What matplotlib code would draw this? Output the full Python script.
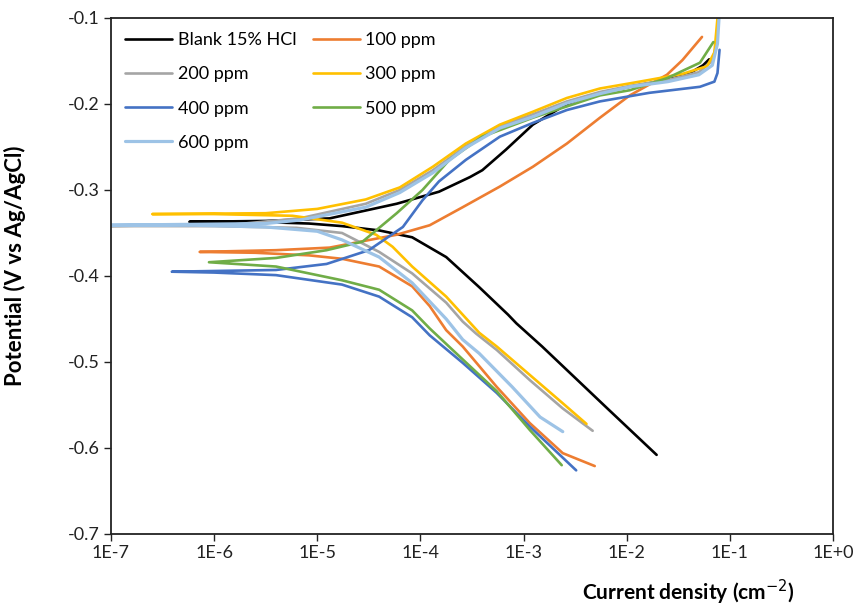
import numpy as np
import matplotlib.pyplot as plt
from matplotlib.ticker import FixedLocator, FuncFormatter

plt.rcParams['font.family'] = ['Lato', 'DejaVu Sans']

# log10(current density) and potential (V), from cathodic end -> Ecorr -> anodic end
blank_logi = [-1.71, -2.17, -2.82, -3.07, -3.15, -3.43, -3.75, -4.08, -4.40, -4.76, -5.08, -5.6, -6.24,
              -5.5, -4.88, -4.23, -3.82, -3.52, -3.40, -3.17, -2.91, -2.58, -2.26, -1.97, -1.61, -1.40, -1.26, -1.20]
blank_E = [-0.608, -0.556, -0.482, -0.455, -0.445, -0.413, -0.378, -0.355, -0.347, -0.342, -0.339, -0.337, -0.337,
           -0.336, -0.333, -0.316, -0.302, -0.285, -0.277, -0.253, -0.224, -0.200, -0.187, -0.180, -0.172, -0.165, -0.155, -0.148]

p100_logi = [-2.31, -2.62, -2.94, -3.26, -3.59, -3.75, -3.91, -4.08, -4.40, -4.76, -5.08, -5.6, -6.14,
             -5.4, -4.88, -4.23, -3.91, -3.59, -3.23, -2.91, -2.58, -2.26, -1.97, -1.61, -1.46, -1.27]
p100_E = [-0.621, -0.606, -0.571, -0.529, -0.482, -0.463, -0.435, -0.412, -0.389, -0.380, -0.376, -0.373, -0.372,
          -0.370, -0.367, -0.352, -0.341, -0.320, -0.296, -0.273, -0.246, -0.216, -0.190, -0.166, -0.149, -0.122]

p200_logi = [-2.33, -2.62, -2.94, -3.26, -3.46, -3.59, -3.75, -4.08, -4.40, -4.76, -5.2, -6.0, -7.1,
             -5.8, -5.17, -4.53, -4.2, -3.88, -3.56, -3.23, -2.91, -2.58, -2.26, -1.97, -1.6, -1.3, -1.17, -1.12]
p200_E = [-0.580, -0.554, -0.521, -0.486, -0.467, -0.453, -0.431, -0.397, -0.372, -0.350, -0.344, -0.342, -0.342,
          -0.340, -0.333, -0.316, -0.300, -0.277, -0.249, -0.226, -0.212, -0.197, -0.186, -0.179, -0.172, -0.163, -0.150, -0.125]

p300_logi = [-2.39, -2.62, -2.94, -3.26, -3.43, -3.75, -4.08, -4.27, -4.43, -4.76, -5.24, -6.0, -6.60,
             -5.5, -5.0, -4.53, -4.2, -3.88, -3.56, -3.23, -2.91, -2.58, -2.26, -1.97, -1.78, -1.46, -1.22, -1.15, -1.12]
p300_E = [-0.572, -0.548, -0.515, -0.482, -0.466, -0.424, -0.389, -0.366, -0.352, -0.338, -0.330, -0.328, -0.328,
          -0.327, -0.322, -0.311, -0.297, -0.273, -0.246, -0.224, -0.209, -0.193, -0.182, -0.176, -0.172, -0.165, -0.156, -0.140, -0.100]

p400_logi = [-2.49, -2.94, -3.26, -3.59, -3.91, -4.08, -4.40, -4.76, -5.40, -6.0, -6.41,
             -5.40, -4.91, -4.50, -4.17, -3.98, -3.82, -3.56, -3.23, -2.91, -2.58, -2.26, -1.78, -1.29, -1.15, -1.12, -1.10]
p400_E = [-0.626, -0.575, -0.536, -0.501, -0.469, -0.448, -0.424, -0.410, -0.399, -0.396, -0.395,
          -0.393, -0.386, -0.370, -0.343, -0.312, -0.290, -0.265, -0.238, -0.222, -0.207, -0.197, -0.187, -0.180, -0.174, -0.164, -0.137]

p500_logi = [-2.63, -2.94, -3.26, -3.59, -3.91, -4.08, -4.40, -4.76, -5.40, -6.05,
             -5.40, -4.91, -4.56, -4.23, -3.98, -3.72, -3.40, -2.91, -2.26, -1.97, -1.61, -1.29, -1.16]
p500_E = [-0.620, -0.579, -0.534, -0.497, -0.461, -0.440, -0.416, -0.405, -0.389, -0.384,
          -0.379, -0.370, -0.360, -0.327, -0.300, -0.265, -0.238, -0.216, -0.190, -0.184, -0.170, -0.152, -0.128]

p600_logi = [-2.62, -2.84, -3.11, -3.43, -3.59, -3.75, -4.08, -4.40, -4.76, -5.0, -5.5, -6.2, -7.1,
             -5.5, -5.17, -4.53, -4.2, -3.88, -3.56, -3.23, -2.91, -2.58, -2.26, -1.97, -1.6, -1.3, -1.17, -1.12, -1.10]
p600_E = [-0.581, -0.564, -0.529, -0.490, -0.474, -0.450, -0.408, -0.378, -0.358, -0.348, -0.343, -0.341, -0.341,
          -0.339, -0.335, -0.320, -0.303, -0.280, -0.251, -0.228, -0.215, -0.199, -0.188, -0.180, -0.174, -0.166, -0.155, -0.130, -0.090]

labels = ['Blank 15% HCl', '100 ppm', '200 ppm', '300 ppm', '400 ppm', '500 ppm', '600 ppm']
colors = ['#000000', '#ED7D31', '#A5A5A5', '#FFC000', '#4472C4', '#70AD47', '#9DC3E6']
series = [(blank_logi, blank_E), (p100_logi, p100_E), (p200_logi, p200_E), (p300_logi, p300_E),
          (p400_logi, p400_E), (p500_logi, p500_E), (p600_logi, p600_E)]

fig = plt.figure(figsize=(8.57, 6.10), dpi=100)
ax = fig.add_axes([0.1295, 0.1246, 0.8425, 0.8459])

lines = []
for (li, E), c, lab in zip(series, colors, labels):
    lw = 2.3 if lab == '600 ppm' else 1.9
    ln, = ax.plot(10 ** np.array(li), E, color=c, lw=lw, label=lab,
                  solid_capstyle='round', solid_joinstyle='round')
    lines.append(ln)

ax.set_xscale('log')
ax.set_xlim(1e-7, 1e0)
ax.set_ylim(-0.7, -0.1)
ax.xaxis.set_major_locator(FixedLocator([10.0 ** k for k in range(-7, 1)]))
ax.xaxis.set_minor_locator(FixedLocator([]))
ax.xaxis.set_major_formatter(FuncFormatter(lambda v, p: '1E%+d' % round(np.log10(v))))
ax.set_yticks(np.arange(-0.7, -0.05, 0.1))
ax.yaxis.set_major_formatter(FuncFormatter(lambda v, p: '%.1f' % v))
ax.tick_params(direction='out', length=5, width=1, labelsize=13, colors='#222222', pad=3)

for s in ax.spines.values():
    s.set_linewidth(1.3)
    s.set_color('#222222')

ax.set_xlabel('Current density (cm$^{-2}$)', fontsize=15, fontweight='bold')
ax.xaxis.set_label_coords(0.80, -0.085)
ax.set_ylabel('Potential (V vs Ag/AgCl)', fontsize=16, fontweight='bold')
ax.yaxis.set_label_coords(-0.118, 0.52)

# legend fills row-wise in the original: reorder for column filling
order = [0, 2, 4, 6, 1, 3, 5]
ax.legend([lines[i] for i in order], [labels[i] for i in order], ncol=2, frameon=False,
          loc='upper left', bbox_to_anchor=(0.0, 1.0), fontsize=13, handlelength=2.6,
          handletextpad=0.3, columnspacing=0.9, labelspacing=1.0, borderaxespad=0.4)

fig.savefig('out.png', dpi=100)
